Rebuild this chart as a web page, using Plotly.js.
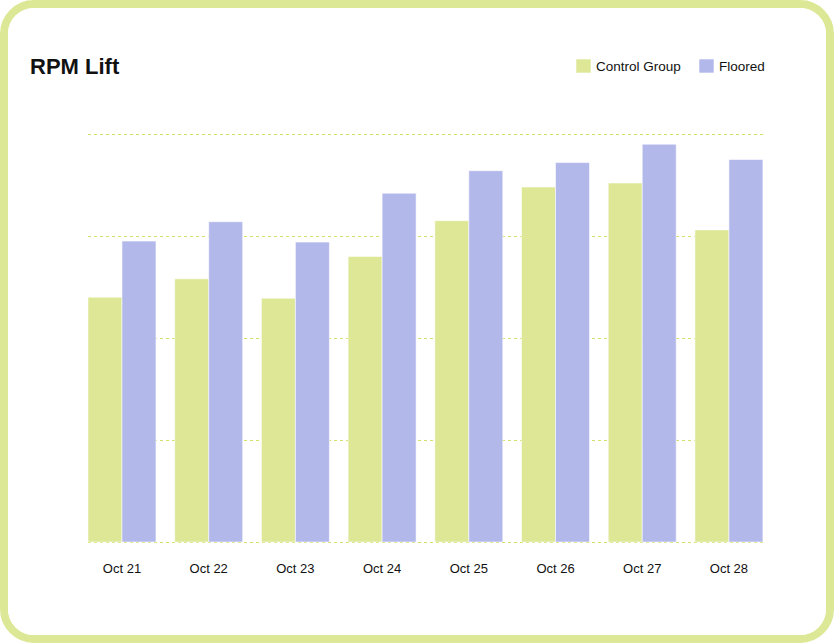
<!DOCTYPE html>
<html>
<head>
<meta charset="utf-8">
<script src="https://cdn.plot.ly/plotly-3.0.1.min.js"></script>
<style>
  html, body { margin: 0; padding: 0; background: #ffffff; }
  #card {
    width: 834px; height: 643px; box-sizing: border-box;
    border: 8px solid #dde896; border-radius: 34px; overflow: hidden;
    background: #ffffff;
  }
  #chart { width: 818px; height: 627px; }
</style>
</head>
<body>
<div id="card"><div id="chart"></div></div>
<script>
const categories = ["Oct 21", "Oct 22", "Oct 23", "Oct 24", "Oct 25", "Oct 26", "Oct 27", "Oct 28"];
const controlGroup = [2.40, 2.58, 2.39, 2.80, 3.15, 3.48, 3.52, 3.06];
const floored = [2.95, 3.14, 2.94, 3.42, 3.64, 3.72, 3.90, 3.75];
const seriesNames = ["Control Group", "Floored"];
const seriesColors = ["#dde796", "#b3b8eb"];
const gridValues = [0, 1, 2, 3, 4];

const font = "'Liberation Sans', Arial, sans-serif";
const idx = categories.map((_, i) => i);

const W = 818, H = 627;
const M = { l: 80, r: 61, t: 124, b: 91 };
const plotW = W - M.l - M.r;
const plotH = H - M.t - M.b;
const px2paperX = px => (px - M.l) / plotW;
const px2paperY = py => 1 - (py - M.t) / plotH;

const traces = [controlGroup, floored].map((vals, i) => ({
  type: "bar", name: seriesNames[i], x: idx, y: vals,
  marker: { color: seriesColors[i], line: { color: "rgba(255,255,255,0.55)", width: 1 } },
  hoverinfo: "skip", showlegend: false
}));

// custom legend (squares + labels), positioned in pixels of the figure
const legendItems = [
  { sq: 568, text: 586 },
  { sq: 691, text: 709 }
];
const legendShapes = legendItems.map((it, i) => ({
  type: "rect", xref: "paper", yref: "paper",
  x0: px2paperX(it.sq), x1: px2paperX(it.sq + 15),
  y0: px2paperY(51), y1: px2paperY(65),
  fillcolor: seriesColors[i], line: { color: "rgba(255,255,255,0.6)", width: 1 }
}));
const legendAnn = legendItems.map((it, i) => ({
  text: seriesNames[i], xref: "paper", yref: "paper",
  x: px2paperX(it.text), xanchor: "left",
  y: px2paperY(58), yanchor: "middle",
  showarrow: false, font: { family: font, size: 13.5, color: "#111111" }
}));

const pad = 2 / 102;

const layout = {
  width: W, height: H,
  margin: M,
  paper_bgcolor: "#ffffff", plot_bgcolor: "#ffffff",
  font: { family: font, color: "#111111", size: 13 },
  title: {
    text: "<b>RPM Lift</b>",
    font: { family: font, size: 22, color: "#111111" },
    x: 22 / W, xref: "container", xanchor: "left",
    y: 1 - 58 / H, yref: "container", yanchor: "middle"
  },
  barmode: "group", bargap: 0.216, bargroupgap: 0,
  showlegend: false,
  shapes: legendShapes,
  annotations: legendAnn,
  xaxis: {
    range: [-0.392, 7.416], tickmode: "array", tickvals: idx, ticktext: categories,
    showgrid: false, zeroline: false, showline: false, ticks: "",
    tickfont: { family: font, size: 13, color: "#111111" },
    ticklabelstandoff: 15, fixedrange: true
  },
  yaxis: {
    range: [-pad, 4 + pad], tickmode: "array", tickvals: gridValues,
    showticklabels: false, showgrid: true, gridcolor: "#d3e16a", griddash: "dot", gridwidth: 1,
    zeroline: false, showline: false, ticks: "", fixedrange: true
  }
};

Plotly.newPlot("chart", traces, layout, { displayModeBar: false, staticPlot: true });
</script>
</body>
</html>
